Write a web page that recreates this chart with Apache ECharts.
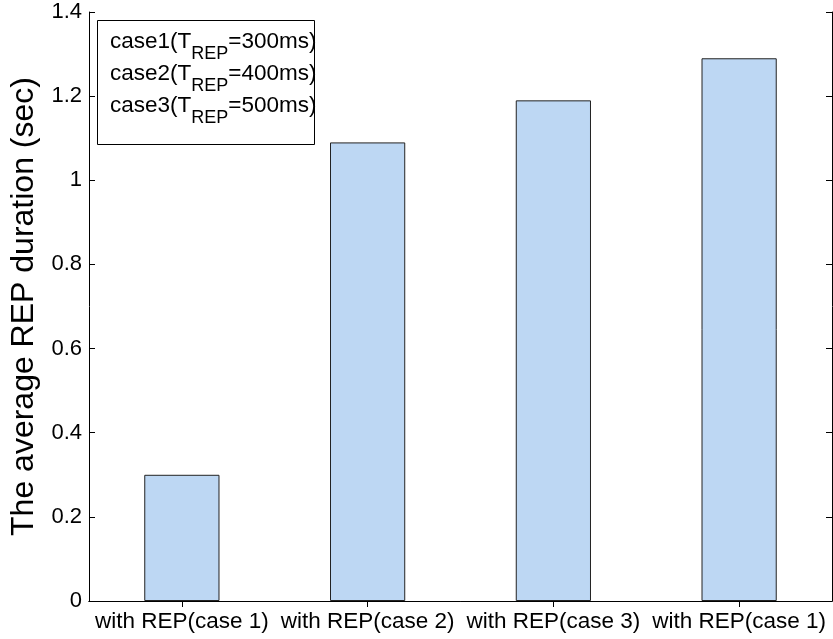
<!DOCTYPE html>
<html>
<head>
<meta charset="utf-8">
<script src="https://cdn.jsdelivr.net/npm/echarts@6/dist/echarts.min.js"></script>
<style>
  html, body { margin: 0; padding: 0; background: #fff; }
  #chart { width: 833px; height: 639px; }
</style>
</head>
<body>
<div id="chart"></div>
<script>
// Categories and mean REP durations (seconds)
const categories = ['with REP(case 1)', 'with REP(case 2)', 'with REP(case 3)', 'with REP(case 1)'];
const durations = [0.30, 1.09, 1.19, 1.29];
const legendCases = ['case1', 'case2', 'case3'];
const legendPeriods = ['300ms', '400ms', '500ms'];

const FONT = '"Liberation Sans", Arial, Helvetica, sans-serif';
const chart = echarts.init(document.getElementById('chart'));

const legendText = legendCases
  .map((c, i) => `{m|${c}(T}{s|REP}{m|=${legendPeriods[i]})}`)
  .join('\n');

chart.setOption({
  animation: false,
  backgroundColor: '#fff',
  grid: { left: 89, right: 1, top: 12, bottom: 38 },
  xAxis: [
    {
      type: 'category',
      data: categories,
      position: 'bottom',
      axisLine: { lineStyle: { color: '#000', width: 1 } },
      axisTick: { show: true, inside: true, alignWithLabel: true, length: 6, lineStyle: { color: '#000' } },
      axisLabel: { interval: 0, color: '#000', fontFamily: FONT, fontSize: 22.5, margin: 9 }
    },
    {
      type: 'category',
      data: categories,
      position: 'top',
      axisLine: { lineStyle: { color: '#000', width: 1 } },
      axisTick: { show: true, inside: true, alignWithLabel: true, length: 6, lineStyle: { color: '#000' } },
      axisLabel: { show: false }
    }
  ],
  yAxis: [
    {
      type: 'value',
      min: 0, max: 1.4, interval: 0.2,
      position: 'left',
      name: 'The average REP duration (sec)',
      nameLocation: 'middle',
      nameGap: 44,
      nameTextStyle: { color: '#000', fontFamily: FONT, fontSize: 32 },
      axisLine: { show: true, lineStyle: { color: '#000', width: 1 } },
      axisTick: { show: true, inside: true, length: 6, lineStyle: { color: '#000' } },
      axisLabel: { color: '#000', fontFamily: FONT, fontSize: 22, margin: 7 },
      splitLine: { show: false }
    },
    {
      type: 'value',
      min: 0, max: 1.4, interval: 0.2,
      position: 'right',
      axisLine: { show: true, lineStyle: { color: '#000', width: 1 } },
      axisTick: { show: true, inside: true, length: 6, lineStyle: { color: '#000' } },
      axisLabel: { show: false },
      splitLine: { show: false }
    }
  ],
  series: [
    {
      type: 'bar',
      data: durations,
      barWidth: '40.5%',
      itemStyle: { color: '#bdd7f3', borderColor: '#222', borderWidth: 1 }
    }
  ],
  graphic: [
    {
      type: 'rect',
      z: 100,
      shape: { x: 97.5, y: 20.5, width: 217, height: 124 },
      style: { fill: '#fff', stroke: '#000', lineWidth: 1 }
    },
    {
      type: 'text',
      z: 101,
      x: 110,
      y: 26,
      style: {
        text: legendText,
        verticalAlign: 'top',
        fill: '#000',
        rich: {
          m: { fontFamily: FONT, fontSize: 22.5, lineHeight: 32, fill: '#000' },
          s: { fontFamily: FONT, fontSize: 18, lineHeight: 8, padding: [24, 0, 0, 0], fill: '#000' }
        }
      }
    }
  ]
});
</script>
</body>
</html>
